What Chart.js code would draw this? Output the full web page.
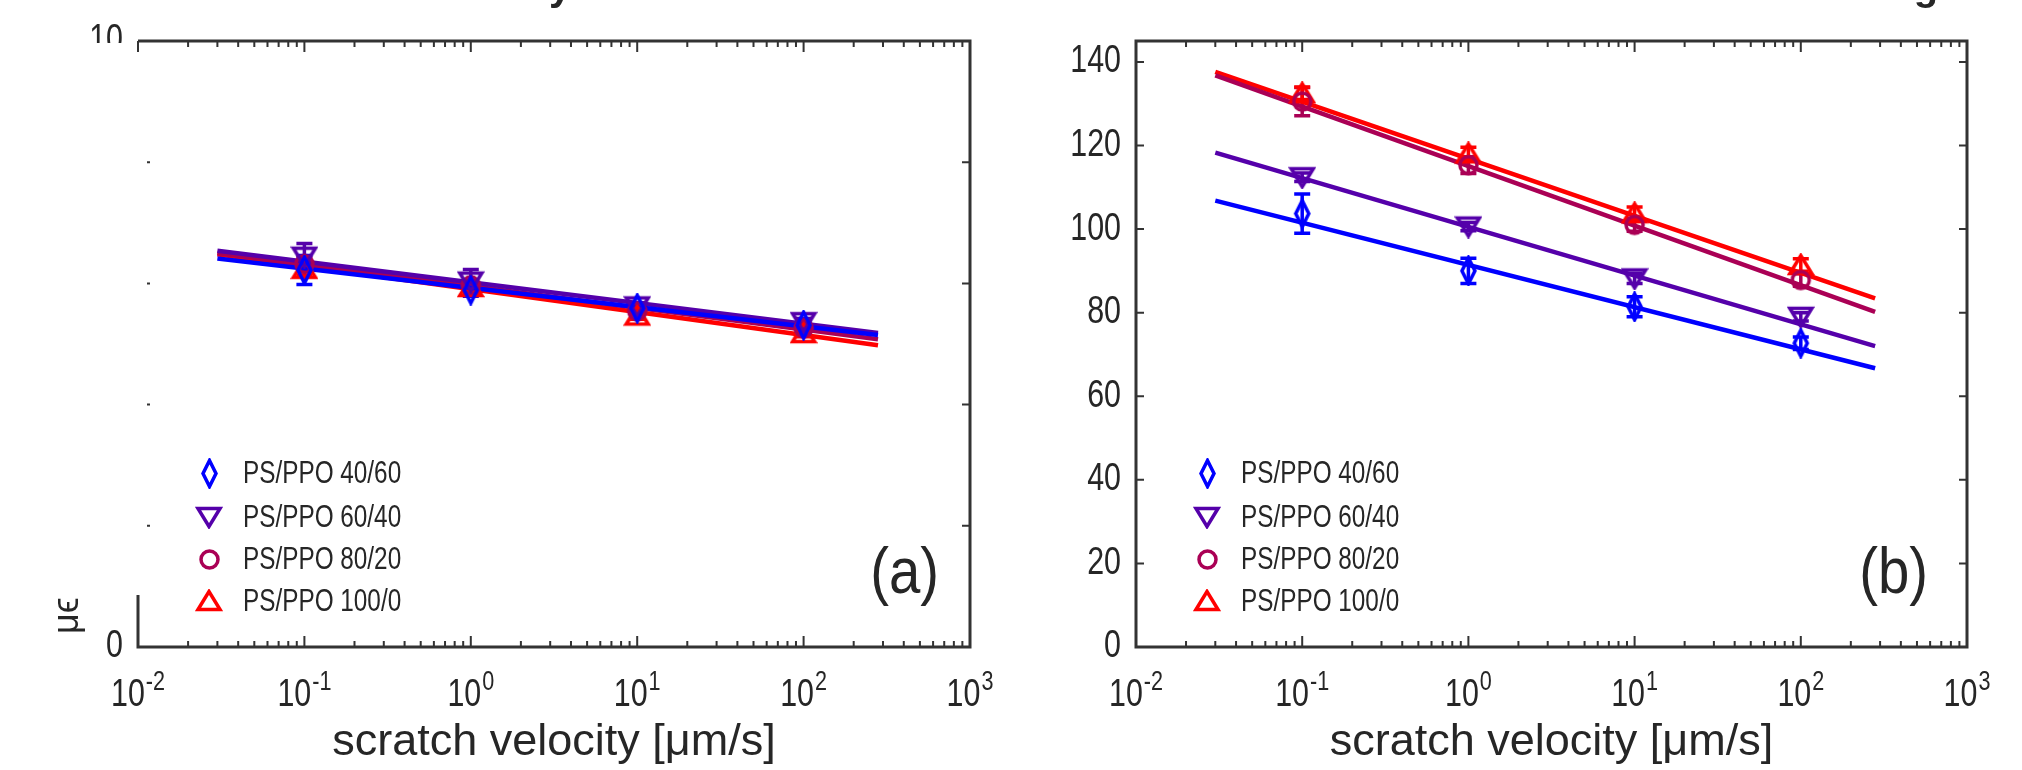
<!DOCTYPE html>
<html>
<head>
<meta charset="utf-8">
<script src="https://cdn.jsdelivr.net/npm/chart.js@4.4.0/dist/chart.umd.min.js"></script>
<style>
html,body{margin:0;padding:0;background:#fff;}
#wrap{position:relative;width:2022px;height:770px;overflow:hidden;background:#fff;}
canvas{position:absolute;top:0;}
#ca{left:0;}
#cb{left:1011px;}
</style>
</head>
<body>
<div id="wrap"><canvas id="ca" width="1011" height="770"></canvas><canvas id="cb" width="1011" height="770"></canvas></div>
<script>
// ---------- data ----------
const velocities = [0.1, 1, 10, 100];            // scratch velocity [µm/s]
const fitX = [0.03, 280];                          // extent of fitted lines
const xMajorTicks = [0.01, 0.1, 1, 10, 100, 1000];
const xTickBase = '10';
const xTickExponents = ['-2', '-1', '0', '1', '2', '3'];
const seriesNames = ['PS/PPO 40/60', 'PS/PPO 60/40', 'PS/PPO 80/20', 'PS/PPO 100/0'];
const seriesColors = ['#0000ff', '#5500aa', '#aa0055', '#ff0000'];
const xTitle = 'scratch velocity [μm/s]';

// panel (a)
const aYTicks = [0, 2, 4, 6, 8, 10];
const aYTickLabels = ['0', '', '', '', '', '10'];
const a40_60 = [6.22, 5.89, 5.59, 5.31];
const a40_60Err = [0.24, 0.10, 0.08, 0.06];
const a60_40 = [6.44, 6.03, 5.62, 5.36];
const a60_40Err = [0.22, 0.20, 0.06, 0.06];
const a80_20 = [6.32, 5.97, 5.54, 5.26];
const a80_20Err = [0.10, 0.08, 0.06, 0.06];
const a100_0 = [6.24, 5.94, 5.47, 5.18];
const a100_0Err = [0.10, 0.08, 0.06, 0.06];
const aFit40_60 = [6.41, 5.15];
const aFit60_40 = [6.54, 5.18];
const aFit80_20 = [6.50, 5.08];
const aFit100_0 = [6.48, 4.98];

// panel (b)
const bYTicks = [0, 20, 40, 60, 80, 100, 120, 140];
const bYTickLabels = ['0', '20', '40', '60', '80', '100', '120', '140'];
const b40_60 = [103.7, 90.0, 81.4, 72.7];
const b40_60Err = [4.7, 3.0, 2.4, 1.5];
const b60_40 = [112.4, 100.6, 88.2, 79.0];
const b60_40Err = [1.0, 1.0, 1.2, 1.0];
const b80_20 = [130.5, 115.3, 101.0, 87.8];
const b80_20Err = [3.4, 2.0, 1.5, 1.5];
const b100_0 = [132.5, 118.1, 103.8, 91.4];
const b100_0Err = [1.5, 1.5, 1.5, 1.5];
const bFit40_60 = [106.8, 66.7];
const bFit60_40 = [118.3, 72.0];
const bFit80_20 = [136.8, 80.2];
const bFit100_0 = [137.6, 83.4];

// ---------- styling ----------
const FONT = "'Liberation Sans', Arial, Helvetica, sans-serif";
const TXT = '#262626';
const AXC = '#333333';
const SQ = 0.8; // horizontal squeeze of the figure's lettering

function makeMarker(shape, color) {
  const c = document.createElement('canvas');
  const dims = {diamond: [19, 31], down: [28, 24], circle: [23, 23], up: [28, 24]}[shape];
  c.width = dims[0]; c.height = dims[1];
  const g = c.getContext('2d');
  const w = c.width, h = c.height;
  g.strokeStyle = color; g.lineWidth = 3.5; g.lineJoin = 'miter';
  g.beginPath();
  if (shape === 'diamond') { g.moveTo(w/2, 2.5); g.lineTo(w-3, h/2); g.lineTo(w/2, h-2.5); g.lineTo(3, h/2); g.closePath(); }
  else if (shape === 'down') { g.moveTo(3, 3.5); g.lineTo(w-3, 3.5); g.lineTo(w/2, h-2.5); g.closePath(); }
  else if (shape === 'up') { g.moveTo(3, h-3.5); g.lineTo(w-3, h-3.5); g.lineTo(w/2, 2.5); g.closePath(); }
  else { g.arc(w/2, h/2, 8.5, 0, Math.PI*2); }
  g.stroke();
  return c;
}
const markerShapes = ['diamond', 'down', 'circle', 'up'];
const markers = markerShapes.map((s, i) => makeMarker(s, seriesColors[i]));

function isMajor(v) { const l = Math.log10(v); return Math.abs(l - Math.round(l)) < 1e-9; }

function text(ctx, str, x, y, size, align, baseline, sx) {
  ctx.save();
  ctx.translate(x, y); ctx.scale(sx, 1);
  ctx.font = size + 'px ' + FONT; ctx.textAlign = align; ctx.textBaseline = baseline;
  ctx.fillText(str, 0, 0);
  ctx.restore();
}
function textWidth(ctx, str, size, sx) {
  ctx.save(); ctx.font = size + 'px ' + FONT; const w = ctx.measureText(str).width * sx; ctx.restore(); return w;
}

function buildDatasets(vals, errs, fits) {
  const ds = [];
  for (let i = 0; i < 4; i++) {
    ds.push({
      label: seriesNames[i],
      data: velocities.map((v, j) => ({x: v, y: vals[i][j]})),
      errorBars: errs[i],
      pointStyle: markers[i], pointRadius: 12, pointHoverRadius: 12,
      borderColor: seriesColors[i], backgroundColor: 'rgba(0,0,0,0)',
      showLine: false, order: i
    });
  }
  for (let i = 0; i < 4; i++) {
    ds.push({
      label: seriesNames[i] + ' fit', isFit: true,
      data: fitX.map((x, j) => ({x: x, y: fits[i][j]})),
      showLine: true, borderColor: seriesColors[i], borderWidth: 4.5,
      pointRadius: 0, pointHoverRadius: 0, order: 10 + i
    });
  }
  return ds;
}

const errorBarPlugin = {
  id: 'errorBars',
  beforeDatasetsDraw(chart) {
    const {ctx, scales: {x, y}} = chart;
    ctx.save();
    chart.data.datasets.forEach((ds) => {
      if (!ds.errorBars) return;
      ctx.strokeStyle = ds.borderColor; ctx.lineWidth = 3.5;
      ds.data.forEach((p, j) => {
        const e = ds.errorBars[j];
        const px = x.getPixelForValue(p.x);
        const pt = y.getPixelForValue(p.y + e), pb = y.getPixelForValue(p.y - e);
        ctx.beginPath();
        ctx.moveTo(px, pt); ctx.lineTo(px, pb);
        ctx.moveTo(px - 8, pt); ctx.lineTo(px + 8, pt);
        ctx.moveTo(px - 8, pb); ctx.lineTo(px + 8, pb);
        ctx.stroke();
      });
    });
    ctx.restore();
  }
};

function framePlugin(cfg) {
  return {
    id: 'frame',
    afterDraw(chart) {
      const {ctx, chartArea: ca, scales: {x, y}} = chart;
      ctx.save();
      ctx.strokeStyle = AXC; ctx.lineWidth = 2;
      ctx.beginPath();
      x.ticks.forEach(t => {
        const px = x.getPixelForValue(t.value);
        const len = isMajor(t.value) ? 11 : 6;
        ctx.moveTo(px, ca.bottom); ctx.lineTo(px, ca.bottom - len);
        ctx.moveTo(px, ca.top); ctx.lineTo(px, ca.top + len);
      });
      y.ticks.forEach(t => {
        const py = y.getPixelForValue(t.value);
        ctx.moveTo(ca.right, py); ctx.lineTo(ca.right - 8, py);
        if (cfg.masked) { ctx.moveTo(ca.left + 9, py); ctx.lineTo(ca.left + 12, py); }
        else { ctx.moveTo(ca.left, py); ctx.lineTo(ca.left + 8, py); }
      });
      ctx.stroke();
      // box
      ctx.lineWidth = 3;
      ctx.beginPath();
      ctx.moveTo(ca.left, ca.top); ctx.lineTo(ca.right, ca.top); ctx.lineTo(ca.right, ca.bottom); ctx.lineTo(ca.left, ca.bottom);
      if (cfg.masked) { ctx.lineTo(ca.left, ca.bottom - 52); }
      else { ctx.lineTo(ca.left, ca.top - 1.5); }
      ctx.stroke();

      ctx.fillStyle = TXT;
      // x tick labels: base 10 with raised exponent
      xMajorTicks.forEach((v, k) => {
        const px = x.getPixelForValue(v);
        const wb = textWidth(ctx, xTickBase, 38, SQ);
        const we = textWidth(ctx, xTickExponents[k], 27, SQ);
        const x0 = px - (wb + we + 1) / 2;
        text(ctx, xTickBase, x0, ca.bottom + 59, 38, 'left', 'alphabetic', SQ);
        text(ctx, xTickExponents[k], x0 + wb + 1, ca.bottom + 43, 27, 'left', 'alphabetic', SQ);
      });
      // y tick labels
      y.ticks.forEach((t, k) => {
        const lbl = cfg.yLabels[k];
        if (!lbl) return;
        const py = y.getPixelForValue(t.value);
        if (cfg.masked && k === cfg.yLabels.length - 1) {
          ctx.save();
          ctx.beginPath(); ctx.rect(0, 0, ca.left - 2, ca.top + 2); ctx.clip();
          text(ctx, lbl, ca.left - 15, py, 38, 'right', 'middle', SQ);
          ctx.restore();
        } else {
          text(ctx, lbl, ca.left - 15, py, 38, 'right', 'middle', SQ);
        }
      });

      if (cfg.masked) {
        // remnant of the y title
        ctx.save();
        ctx.translate(68, 634); ctx.rotate(-Math.PI / 2);
        ctx.font = '36px ' + FONT; ctx.textAlign = 'left'; ctx.textBaseline = 'middle';
        ctx.fillText('μϵ', 0, 0);
        ctx.restore();
      }
      // legend
      const rows = [174, 130, 88, 46];
      for (let i = 0; i < 4; i++) {
        const my = ca.bottom - rows[i];
        const m = markers[i];
        ctx.drawImage(m, Math.round(ca.left + 71 - m.width / 2), Math.round(my - m.height / 2));
        text(ctx, seriesNames[i], ca.left + 105, my + 1, 32, 'left', 'middle', 0.76);
      }
      // panel letter
      text(ctx, cfg.letter, ca.right - cfg.letterDx, ca.bottom - 72, 64, 'right', 'middle', 0.88);
      // fragments of the cropped figure title
      ctx.font = 'bold 40px ' + FONT; ctx.textAlign = 'center'; ctx.textBaseline = 'alphabetic';
      ctx.fillText(cfg.frag, cfg.fragX, 0);
      ctx.restore();
    }
  };
}

function makeChart(id, cfg) {
  return new Chart(document.getElementById(id), {
    type: 'scatter',
    data: {datasets: buildDatasets(cfg.vals, cfg.errs, cfg.fits)},
    options: {
      responsive: false, animation: false, devicePixelRatio: 1,
      layout: {padding: {top: 41, right: cfg.padRight, left: 0, bottom: 0}},
      plugins: {legend: {display: false}, tooltip: {enabled: false}},
      scales: {
        x: {
          type: 'logarithmic', position: 'bottom', min: 0.01, max: 1000,
          afterBuildTicks: (s) => {
            const t = [];
            for (let k = 0; k < xMajorTicks.length - 1; k++) {
              for (let m = 1; m <= 9; m++) t.push({value: xMajorTicks[k] * m});
            }
            t.push({value: xMajorTicks[xMajorTicks.length - 1]});
            s.ticks = t;
          },
          afterFit: (s) => { s.height = 123; },
          grid: {display: false, drawTicks: false},
          border: {display: false},
          ticks: {display: false},
          title: {display: true, text: xTitle, color: TXT, font: {family: FONT, size: 45}, padding: {top: 0, bottom: 0}}
        },
        y: {
          type: 'linear', min: cfg.yMin, max: cfg.yMax,
          afterFit: (s) => { s.width = cfg.yWidth; },
          afterBuildTicks: (s) => { s.ticks = cfg.yTicks.map(v => ({value: v})); },
          grid: {display: false, drawTicks: false},
          border: {display: false},
          ticks: {display: false}
        }
      }
    },
    plugins: [errorBarPlugin, framePlugin(cfg)]
  });
}

makeChart('ca', {
  vals: [a40_60, a60_40, a80_20, a100_0],
  errs: [a40_60Err, a60_40Err, a80_20Err, a100_0Err],
  fits: [aFit40_60, aFit60_40, aFit80_20, aFit100_0],
  yMin: 0, yMax: 10, yTicks: aYTicks, yLabels: aYTickLabels, yWidth: 138, padRight: 41,
  masked: true, letter: '(a)', letterDx: 31, frag: 'y', fragX: 560
});
makeChart('cb', {
  vals: [b40_60, b60_40, b80_20, b100_0],
  errs: [b40_60Err, b60_40Err, b80_20Err, b100_0Err],
  fits: [bFit40_60, bFit60_40, bFit80_20, bFit100_0],
  yMin: 0, yMax: 145, yTicks: bYTicks, yLabels: bYTickLabels, yWidth: 125, padRight: 55,
  masked: false, letter: '(b)', letterDx: 39, frag: 'g', fragX: 915
});
</script>
</body>
</html>
